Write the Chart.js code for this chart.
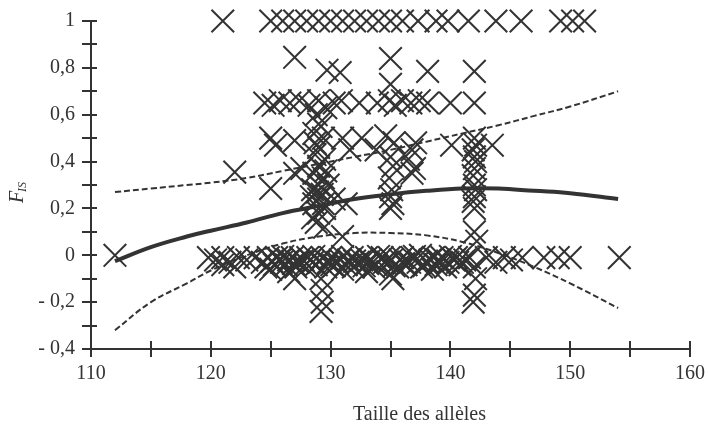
<!DOCTYPE html>
<html>
<head>
<meta charset="utf-8">
<script src="https://cdn.jsdelivr.net/npm/chart.js@4.4.0/dist/chart.umd.min.js"></script>
<style>
  body { margin: 0; background: #fff; }
</style>
</head>
<body>
<canvas id="myChart" width="708" height="426"></canvas>
<script>
// points, [allele size, Fis]
var topRow = [[121,1],[125,1],[126,1],[127,1],[128,1],[129,1],[130,1],[131,1],[132,1],[133,1],[134,1],[135,1],[136,1],[137.3,1],[138.8,1],[139.8,1],[141.5,1],[143.8,1],[145.9,1],[149.2,1],[150.2,1],[151.2,1]];
var highRows = [[127,0.845],[135,0.84],[129.7,0.79],[130.8,0.78],[138.1,0.785],[142,0.785],[135,0.73],
  [124.5,0.65],[125.2,0.64],[125.8,0.66],[126.6,0.65],[127.4,0.66],[128.2,0.64],[129,0.66],[129.6,0.63],[130.3,0.65],[130.9,0.66],[132.4,0.65],[133.9,0.65],[134.9,0.66],[135.4,0.64],[136,0.66],[136.7,0.65],[137.4,0.66],[138.1,0.65],[140,0.65],[142,0.65]];
var midRows = [[125,0.5],[125.4,0.47],[127,0.49],[131,0.5],[131.6,0.45],[132.6,0.5],[133.8,0.45],[134.6,0.51],[135.3,0.48],[136.8,0.45],[137.1,0.48],[140.1,0.47],[143.5,0.47],
  [122,0.355],[125,0.285],[127,0.35],[127.6,0.37],[137,0.37],[131.3,0.22],[130.3,0.24],[128.5,0.16],[129.5,0.12],[131,0.08],[135,0.2]];
var column129 = [[128.8,0.6],[129.2,0.55],[128.6,0.52],[129.4,0.5],[129,0.46],[128.7,0.43],[129.5,0.41],[129,0.38],[128.6,0.35],[129.4,0.33],[129,0.3],[128.5,0.28],[129.3,0.26],[129,0.24],[128.6,0.22],[129.5,0.2],[129,0.18],[128.4,0.25],[129.8,0.3],
  [129,0.56],[128.7,0.48],[129.6,0.36],[128.9,0.27],[129.4,0.22],[128.8,0.14]];
var column135 = [[135,0.42],[135.2,0.38],[134.9,0.33],[135.1,0.28],[135,0.25],[135.2,0.22],[136.5,0.41],[136.8,0.35]];
var column142 = [[142,0.5],[142.1,0.47],[141.9,0.45],[142,0.42],[142.1,0.4],[142,0.37],[141.9,0.34],[142,0.3],[142.1,0.28],[142,0.25],[141.9,0.23],[142,0.2],[142,0.1],[142.2,0.06]];
var zeroRow = [[112,0],[119.8,-0.01],[120.4,-0.02],[121,-0.01],[121.6,-0.03],[122.3,-0.01],[123,-0.02],[123.7,-0.01],[124.3,-0.03],[124.8,-0.01],[125.3,-0.04],[125.8,-0.02],[126.3,-0.04],[126.8,-0.01],[127.3,-0.03],[127.8,-0.045],[128.3,-0.02],[128.8,-0.04],[129.3,-0.01],[129.8,-0.03],[130.3,-0.045],[130.8,-0.02],[131.3,-0.04],[131.8,-0.01],[132.3,-0.03],[132.8,-0.045],[133.3,-0.02],[133.8,-0.04],[134.3,-0.01],[134.8,-0.03],[135.3,-0.045],[135.8,-0.02],[136.3,-0.04],[136.8,-0.01],[137.3,-0.03],[137.8,-0.045],[138.3,-0.02],[138.8,-0.04],[139.3,-0.01],[139.8,-0.03],[140.3,-0.02],[140.8,-0.04],[141.6,-0.01],
  [125.5,-0.01],[126.5,-0.02],[127.5,-0.01],[128.5,-0.03],[130,-0.01],[131.5,-0.02],[133,-0.01],[134.5,-0.03],[136,-0.01],[137.5,0.0],[139,-0.02],[140.5,-0.01],
  [124.6,-0.05],[125.9,-0.03],[127.1,-0.05],[128.1,-0.01],[129.6,-0.05],[130.6,-0.03],[131.9,-0.05],[132.6,-0.02],[133.6,-0.05],[134.9,-0.01],[135.6,-0.05],[136.6,-0.03],[137.6,-0.05],[138.6,-0.01],[139.6,-0.05],[140.6,-0.03],[141.2,-0.02],
  [125.1,-0.025],[126,-0.005],[126.9,-0.035],[127.7,-0.02],[128.6,-0.005],[129.1,-0.025],[130.1,-0.04],[131,-0.005],[132,-0.025],[133.1,-0.035],[134,-0.005],[135.1,-0.02],[136.1,-0.035],[137,-0.005],[138,-0.025],[139.1,-0.035],[140,-0.005],[141,-0.03],
  [143,-0.01],[143.8,-0.03],[144.5,-0.01],[145.1,-0.02],[146,-0.01],[147.8,-0.01],[149,-0.01],[150,-0.01],[154.1,-0.01]];
var belowZero = [[121,-0.04],[122,-0.05],[125,-0.06],[126.5,-0.07],[127,-0.1],[129.2,-0.1],[129.3,-0.15],[129.3,-0.2],[129.2,-0.24],[131,-0.06],[133,-0.07],[135,-0.08],[135.2,-0.1],[138.5,-0.06],[142,-0.05],[142.1,-0.1],[142,-0.17],[141.9,-0.2]];

// fitted curve and its confidence band
var curveX = [112, 115, 118, 120, 123, 126, 129, 132, 135, 138, 141, 144, 147, 150, 154];
var fitY   = [-0.025, 0.035, 0.08, 0.105, 0.14, 0.18, 0.21, 0.24, 0.26, 0.275, 0.285, 0.285, 0.275, 0.265, 0.24];
var upperY = [0.27, 0.285, 0.30, 0.31, 0.33, 0.36, 0.39, 0.42, 0.45, 0.485, 0.52, 0.555, 0.595, 0.635, 0.70];
var lowerY = [-0.32, -0.20, -0.12, -0.065, 0.0, 0.05, 0.08, 0.095, 0.095, 0.085, 0.057, 0.01, -0.05, -0.12, -0.225];

var xTicks = [110, 120, 130, 140, 150, 160];

var ink = '#333';
var serif = '"Liberation Serif", "DejaVu Serif", serif';

var allPoints = [].concat(topRow, highRows, midRows, column129, column135, column142, zeroRow, belowZero)
  .map(function (p) { return { x: p[0], y: p[1] }; });

function curve(ys) {
  return curveX.map(function (x, i) { return { x: x, y: ys[i] }; });
}

// the layout padding alone decides where the plot area sits
function noScalePadding(s) {
  s.paddingTop = 0; s.paddingBottom = 0; s.paddingLeft = 0; s.paddingRight = 0;
}

// axis lines with ticks crossing them, and the two axis titles
var axesPlugin = {
  id: 'axes',
  afterDraw: function (chart) {
    var c = chart.ctx, a = chart.chartArea;
    var xs = chart.scales.x, ys = chart.scales.y;
    c.save();
    c.strokeStyle = ink;
    c.lineWidth = 2;
    c.beginPath();
    c.moveTo(a.left, a.top); c.lineTo(a.left, a.bottom);
    c.moveTo(a.left, a.bottom); c.lineTo(a.right, a.bottom);
    for (var v = -4; v <= 10; v++) {
      var py = Math.round(ys.getPixelForValue(v / 10));
      c.moveTo(a.left - 9, py); c.lineTo(a.left + 6, py);
    }
    for (var t = 110; t <= 160; t += 5) {
      var px = Math.round(xs.getPixelForValue(t));
      c.moveTo(px, a.bottom - 8); c.lineTo(px, a.bottom + 8);
    }
    c.stroke();

    c.fillStyle = ink;
    c.font = '20px ' + serif;
    c.textAlign = 'left';
    c.textBaseline = 'alphabetic';
    c.fillText('Taille des allèles', 353, 420);

    c.translate(23, 203);
    c.rotate(-Math.PI / 2);
    c.font = 'italic 20px ' + serif;
    c.fillText('F', 0, 0);
    c.font = 'italic 12px ' + serif;
    c.fillText('IS', 11, 3);
    c.restore();
  }
};

var ctx = document.getElementById('myChart');
var myChart = new Chart(ctx, {
  type: 'scatter',
  data: {
    datasets: [
      { data: curve(fitY), showLine: true, borderColor: ink, borderWidth: 4, pointRadius: 0, tension: 0.4, order: 1 },
      { data: curve(upperY), showLine: true, borderColor: ink, borderWidth: 2, borderDash: [6, 3], pointRadius: 0, tension: 0.4, order: 1 },
      { data: curve(lowerY), showLine: true, borderColor: ink, borderWidth: 2, borderDash: [6, 3], pointRadius: 0, tension: 0.4, order: 1 },
      { data: allPoints, pointStyle: 'crossRot', pointRadius: 16, borderColor: ink, borderWidth: 2, backgroundColor: ink, clip: false, order: 2 }
    ]
  },
  plugins: [axesPlugin],
  options: {
    responsive: false,
    animation: false,
    layout: { padding: { top: 21, right: 17, left: 0, bottom: 0 } },
    plugins: { legend: { display: false }, tooltip: { enabled: false } },
    scales: {
      x: {
        type: 'linear', min: 110, max: 160,
        afterBuildTicks: function (s) { s.ticks = xTicks.map(function (v) { return { value: v }; }); },
        afterFit: function (s) { s.height = 77; noScalePadding(s); },
        grid: { display: false, drawTicks: false },
        border: { display: false },
        ticks: { padding: 13, color: ink, font: { family: serif, size: 20 } }
      },
      y: {
        min: -0.4, max: 1,
        afterFit: function (s) { s.width = 91; noScalePadding(s); },
        grid: { display: false, drawTicks: false },
        border: { display: false },
        ticks: {
          stepSize: 0.2, padding: 16, color: ink, font: { family: serif, size: 20 },
          callback: function (v) {
            var r = Math.round(v * 10) / 10;
            if (r === 0) return '0';
            if (r === 1) return '1';
            var s = Math.abs(r).toFixed(1).replace('.', ',');
            return r < 0 ? '- ' + s : s;
          }
        }
      }
    }
  }
});
</script>
</body>
</html>
